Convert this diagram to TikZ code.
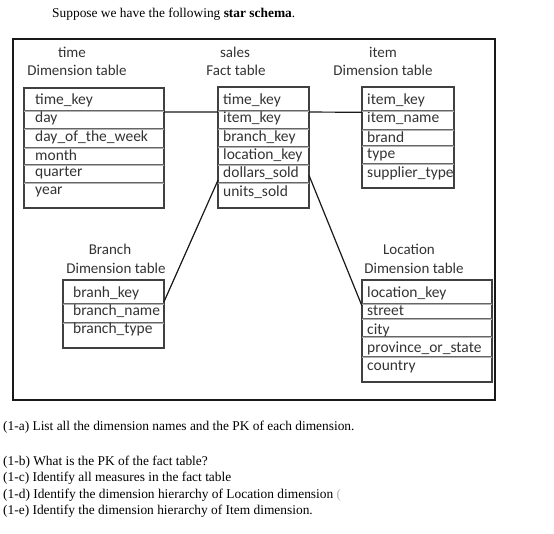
\documentclass[tikz,border=0pt]{standalone}
\usepackage{fontspec}
\setmainfont{Liberation Serif}
\newfontfamily\calib{Carlito}
\usetikzlibrary{calc}
\tikzset{
  x=1pt, y=-1pt,
  tbl/.style={draw=black!75, line width=1.4pt, anchor=north west, inner sep=0pt, outer sep=0pt},
  fld/.style={anchor=west, inner sep=0pt, font=\calib\fontsize{15.5}{17}\selectfont, text=black!80},
  hdr/.style={anchor=center, inner sep=0pt, font=\calib\fontsize{15}{17}\selectfont, text=black!80},
  sep/.style={draw=black!60, line width=0.8pt},
  sepl/.style={draw=black!30, line width=0.8pt},
  qtext/.style={anchor=west, inner sep=0pt, font=\fontsize{13.4}{15}\selectfont},
  link/.style={draw=black!90, line width=1.2pt}
}
\newcommand{\sepline}[3]{%
  \draw[sep] (#1,#3) -- (#2,#3);
  \draw[sepl] (#1,#3+1.3) -- (#2,#3+1.3);}
\begin{document}
\begin{tikzpicture}
\useasboundingbox (0,0) rectangle (554,533);
% title
\node[qtext] (title) at (52,14) {Suppose we have the following \textbf{star schema}.};
% frame
\node[draw=black!90, line width=2.2pt, anchor=north west, inner sep=0pt, minimum width=482pt, minimum height=361pt] (frame) at (12,38) {};

% headers
\node[hdr] (timeh1) at (72,52) {time};
\node[hdr] (timeh2) at (77,70) {Dimension table};
\node[hdr] (salesh1) at (235,52) {sales};
\node[hdr] (salesh2) at (236,70) {Fact table};
\node[hdr] (itemh1) at (383,52) {item};
\node[hdr] (itemh2) at (383,70) {Dimension table};
\node[hdr] (branchh1) at (110,249) {Branch};
\node[hdr] (branchh2) at (116,268) {Dimension table};
\node[hdr] (loch1) at (409,249) {Location};
\node[hdr] (loch2) at (414,268) {Dimension table};

% time table
\node[tbl, minimum width=140pt, minimum height=120pt] (timetab) at (24,88) {};
\sepline{24}{164}{110}
\sepline{24}{164}{128}
\sepline{24}{164}{147}
\sepline{24}{164}{164}
\sepline{24}{164}{182}
\node[fld] (t1) at (35,100) {time\_key};
\node[fld] (t2) at (35,118) {day};
\node[fld] (t3) at (35,137) {day\_of\_the\_week};
\node[fld] (t4) at (35,155) {month};
\node[fld] (t5) at (35,173) {quarter};
\node[fld] (t6) at (35,192) {year};

% sales table
\node[tbl, minimum width=91pt, minimum height=121pt] (salestab) at (218,87) {};
\sepline{218}{309}{110}
\sepline{218}{309}{128}
\sepline{218}{309}{146}
\sepline{218}{309}{164}
\sepline{218}{309}{182}
\node[fld] (s1) at (223,100) {time\_key};
\node[fld] (s2) at (223,118) {item\_key};
\node[fld] (s3) at (223,137) {branch\_key};
\node[fld] (s4) at (223,155) {location\_key};
\node[fld] (s5) at (223,173) {dollars\_sold};
\node[fld] (s6) at (223,192) {units\_sold};

% item table
\begin{scope}
\clip (362,80) rectangle (455,200);
\node[fld] (i1) at (367,100) {item\_key};
\node[fld] (i2) at (367,118) {item\_name};
\node[fld] (i3) at (367,137) {brand};
\node[fld] (i4) at (367,155) {type};
\node[fld] (i5) at (367,173) {supplier\_type};
\end{scope}
\node[tbl, minimum width=92pt, minimum height=101pt] (itemtab) at (362,87) {};
\sepline{362}{454}{110}
\sepline{362}{454}{129}
\sepline{362}{454}{145}
\sepline{362}{454}{163}

% branch table
\node[tbl, minimum width=101pt, minimum height=68pt] (branchtab) at (63,280) {};
\sepline{63}{164}{303}
\sepline{63}{164}{322}
\node[fld] (b1) at (73,293) {branh\_key};
\node[fld] (b2) at (73,311) {branch\_name};
\node[fld] (b3) at (73,329) {branch\_type};

% location table
\node[tbl, minimum width=130pt, minimum height=102pt] (loctab) at (362,280) {};
\sepline{362}{492}{303}
\sepline{362}{492}{318}
\sepline{362}{492}{336}
\sepline{362}{492}{356}
\node[fld] (l1) at (367,293) {location\_key};
\node[fld] (l2) at (367,311) {street};
\node[fld] (l3) at (367,330) {city};
\node[fld] (l4) at (367,348) {province\_or\_state};
\node[fld] (l5) at (367,367) {country};

% connectors
\draw[link] ($(timetab.north east)!0.2!(timetab.south east)$) -- ($(salestab.north west)!0.207!(salestab.south west)$);
\draw[link] ($(salestab.north east)!0.207!(salestab.south east)$) -- ($(itemtab.north west)!0.25!(itemtab.south west)$);
\draw[link] ($(salestab.north west)!0.77!(salestab.south west)$) -- ($(branchtab.north east)!0.32!(branchtab.south east)$);
\draw[link] ($(salestab.north east)!0.73!(salestab.south east)$) -- ($(loctab.north west)!0.255!(loctab.south west)$);

% questions
\node[qtext] (q1) at (3,427) {(1-a) List all the dimension names and the PK of each dimension.};
\node[qtext] (q2) at (3,462) {(1-b) What is the PK of the fact table?};
\node[qtext] (q3) at (3,478) {(1-c) Identify all measures in the fact table};
\node[qtext] (q4) at (3,495) {(1-d) Identify the dimension hierarchy of Location dimension \textcolor{black!30}{(}};
\node[qtext] (q5) at (3,511) {(1-e) Identify the dimension hierarchy of Item dimension.};
\end{tikzpicture}
\end{document}
